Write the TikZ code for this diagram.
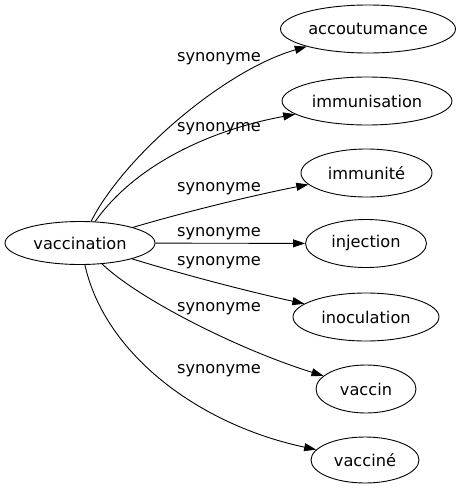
\documentclass[tikz,border=0pt]{standalone}
\usepackage{fontspec}
\setmainfont{DejaVu Sans}
\usetikzlibrary{shapes.geometric,arrows.meta}
\begin{document}
\begin{tikzpicture}[x=1pt,y=-1pt, every node/.style={font=\fontsize{16.2}{19}\selectfont},
  term/.style={draw,ellipse,line width=0.9pt,inner sep=0pt,minimum height=48pt},
  syn/.style={inner sep=0pt},
  link/.style={line width=0.9pt,-{Triangle[length=12pt,width=8pt]}}]
\useasboundingbox (0,0) rectangle (460,491);
\node[term,minimum width=150pt,minimum height=43pt] (vac) at (80,243) {vaccination};
\node[term,minimum width=175pt] (acc) at (368,29) {accoutumance};
\node[term,minimum width=170pt] (imms) at (367,101) {immunisation};
\node[term,minimum width=131pt] (immt) at (366.5,173) {immunité};
\node[term,minimum width=121pt] (inj) at (366,243.5) {injection};
\node[term,minimum width=146pt] (inoc) at (366,317) {inoculation};
\node[term,minimum width=100pt] (vcn) at (366,389) {vaccin};
\node[term,minimum width=108pt,minimum height=46pt] (vce) at (365,460) {vacciné};
% edges
\draw[link] (vac) .. controls (125,155) and (225,70) .. (acc);
\draw[link] (vac) .. controls (135,165) and (210,130) .. (imms);
\draw[link] (vac) .. controls (185,212) and (250,196) .. (immt);
\draw[link] (vac) -- (inj);
\draw[link] (vac) .. controls (185,275) and (250,292) .. (inoc);
\draw[link] (vac) .. controls (140,300) and (240,350) .. (vcn);
\draw[link] (vac) .. controls (105,355) and (200,425) .. (vce);
% labels
\node[syn] (s1) at (219,58.5) {synonyme};
\node[syn] (s2) at (219,128.5) {synonyme};
\node[syn] (s3) at (219,188.5) {synonyme};
\node[syn] (s4) at (219,234) {synonyme};
\node[syn] (s5) at (219,262.5) {synonyme};
\node[syn] (s6) at (219,309) {synonyme};
\node[syn] (s7) at (219,371) {synonyme};
\end{tikzpicture}
\end{document}
